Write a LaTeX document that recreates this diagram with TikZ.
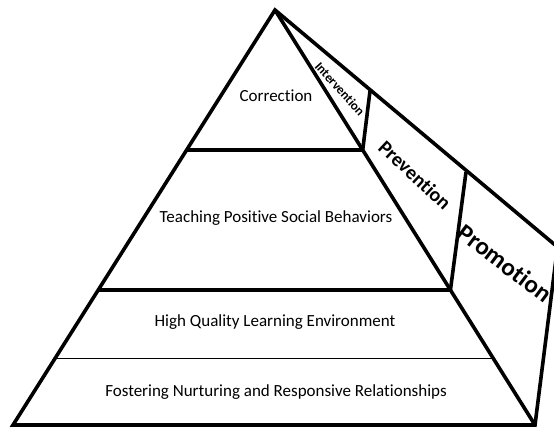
\documentclass[tikz,border=0pt]{standalone}
\usepackage{fontspec}
\setmainfont{Carlito}[Ligatures=NoCommon]
\usetikzlibrary{calc}
\begin{document}
\begin{tikzpicture}[x=1pt,y=-1pt,
  thickline/.style={line width=3.6pt},
  thinline/.style={line width=0.9pt},
  lbl/.style={font=\fontsize{17}{19}\selectfont, inner sep=0pt},
  band/.style={inner sep=0pt}]
\useasboundingbox (0,0) rectangle (554,428);
\clip (0,0) rectangle (554,428);
% key points
\coordinate (A) at (275,10);
\coordinate (BL) at (13,425);
\coordinate (BR) at (535,425);
\coordinate (O1) at (370,91);
\coordinate (O2) at (466,172);
\coordinate (O3) at (557.5,247);
\coordinate (R1) at ($(A)!0.3373!(BR)$);
\coordinate (L1) at ($(A)!0.3373!(BL)$);
\coordinate (R2) at ($(A)!0.6747!(BR)$);
\coordinate (L2) at ($(A)!0.6747!(BL)$);
\coordinate (R3) at ($(A)!0.8386!(BR)$);
\coordinate (L3) at ($(A)!0.8386!(BL)$);
% outline
\draw[thickline] (BL) -- (A) -- (O3) -- (BR) -- cycle;
\draw[thickline] (A) -- (BR);
\draw[thickline] (L1) -- (R1) -- (O1);
\draw[thickline] (L2) -- (R2) -- (O2);
\draw[thinline] (L3) -- (R3);
% labels
\node[lbl] (corr) at (276,96) {Correction};
\node[lbl] (teach) at (276,218) {Teaching Positive Social Behaviors};
\node[lbl] (hq) at (275,322) {High Quality Learning Environment};
\node[lbl] (fost) at (276,392) {Fostering Nurturing and Responsive Relationships};
\node[band, font=\bfseries\fontsize{13}{15}\selectfont, rotate=-48] (interv) at (340,89) {Intervention};
\node[band, font=\bfseries\fontsize{20}{22}\selectfont, rotate=-43] (prev) at (415,175) {Prevention};
\node[band, font=\bfseries\fontsize{25}{28}\selectfont, rotate=-37] (prom) at (505,263) {Promotion};
\end{tikzpicture}
\end{document}
